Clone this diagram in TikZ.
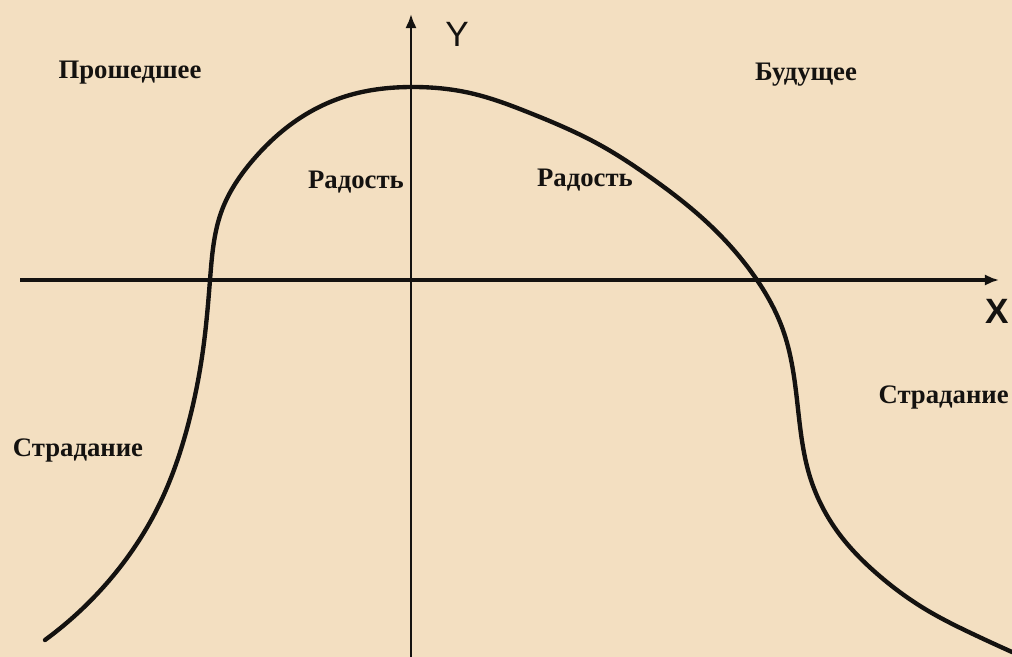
\documentclass[tikz,border=0pt]{standalone}
\usepackage{fontspec}
\setmainfont{Liberation Serif}
\newfontfamily\axisfont{Liberation Sans}
\usepackage{xcolor}
\definecolor{vizPaper}{HTML}{F3DFC1}
\definecolor{vizInk}{HTML}{141210}
\usetikzlibrary{arrows.meta,hobby}

\tikzset{
  word/.style={inner sep=0pt, font=\bfseries\fontsize{19}{21}\selectfont, text=vizInk},
  axisname/.style={inner sep=0pt, font=\axisfont\fontsize{25}{27}\selectfont, text=vizInk},
  axis/.style={draw=vizInk, line width=2.3pt, -{Latex[length=10pt,width=8pt]}},
  fate/.style={draw=vizInk, line width=3.1pt, line cap=round, line join=round}
}

\begin{document}
\begin{tikzpicture}[x=0.025cm, y=-0.025cm]
  \useasboundingbox (0,0) rectangle (1012,657);
  \clip (0,0) rectangle (1012,657);
  \filldraw[fill=vizPaper, draw=none] (0,0) rectangle (1012,657);

  % axes
  \coordinate (xstart) at (20,280);
  \coordinate (xend) at (999,280);
  \coordinate (ystart) at (411,660);
  \coordinate (yend) at (411,14);
  \draw[axis] (xstart) -- (xend);
  \draw[axis, line width=1.8pt] (ystart) -- (yend);
  \node[axisname] (ylab) at (457,34) {Y};
  \node[axisname, font=\axisfont\bfseries\fontsize{25}{27}\selectfont] (xlab) at (997,311) {X};

  % curve
  \draw[fate, use Hobby shortcut] (45,640) .. (107,583) .. (160,503)
    .. (188,425) .. (203,350) .. (210,280) .. (222,210) .. (253,160)
    .. (300,118) .. (350,95) .. (412,87) .. (470,93) .. (530,113)
    .. (600,145) .. (650,177) .. (700,216) .. (757,280) .. (783,330)
    .. (797,400) .. (810,477) .. (840,535) .. (875,572) .. (925,609)
    .. (975,635) .. (1012,652);

  % labels
  \node[word] (past) at (130,73) {Прошедшее};
  \node[word] (future) at (806,75) {Будущее};
  \node[word] (joyl) at (356,182) {Радость};
  \node[word] (joyr) at (585,180) {Радость};
  \node[word] (painl) at (78,450) {Страдание};
  \node[word, anchor=east] (painr) at (1009,397) {Страдание};
\end{tikzpicture}
\end{document}
